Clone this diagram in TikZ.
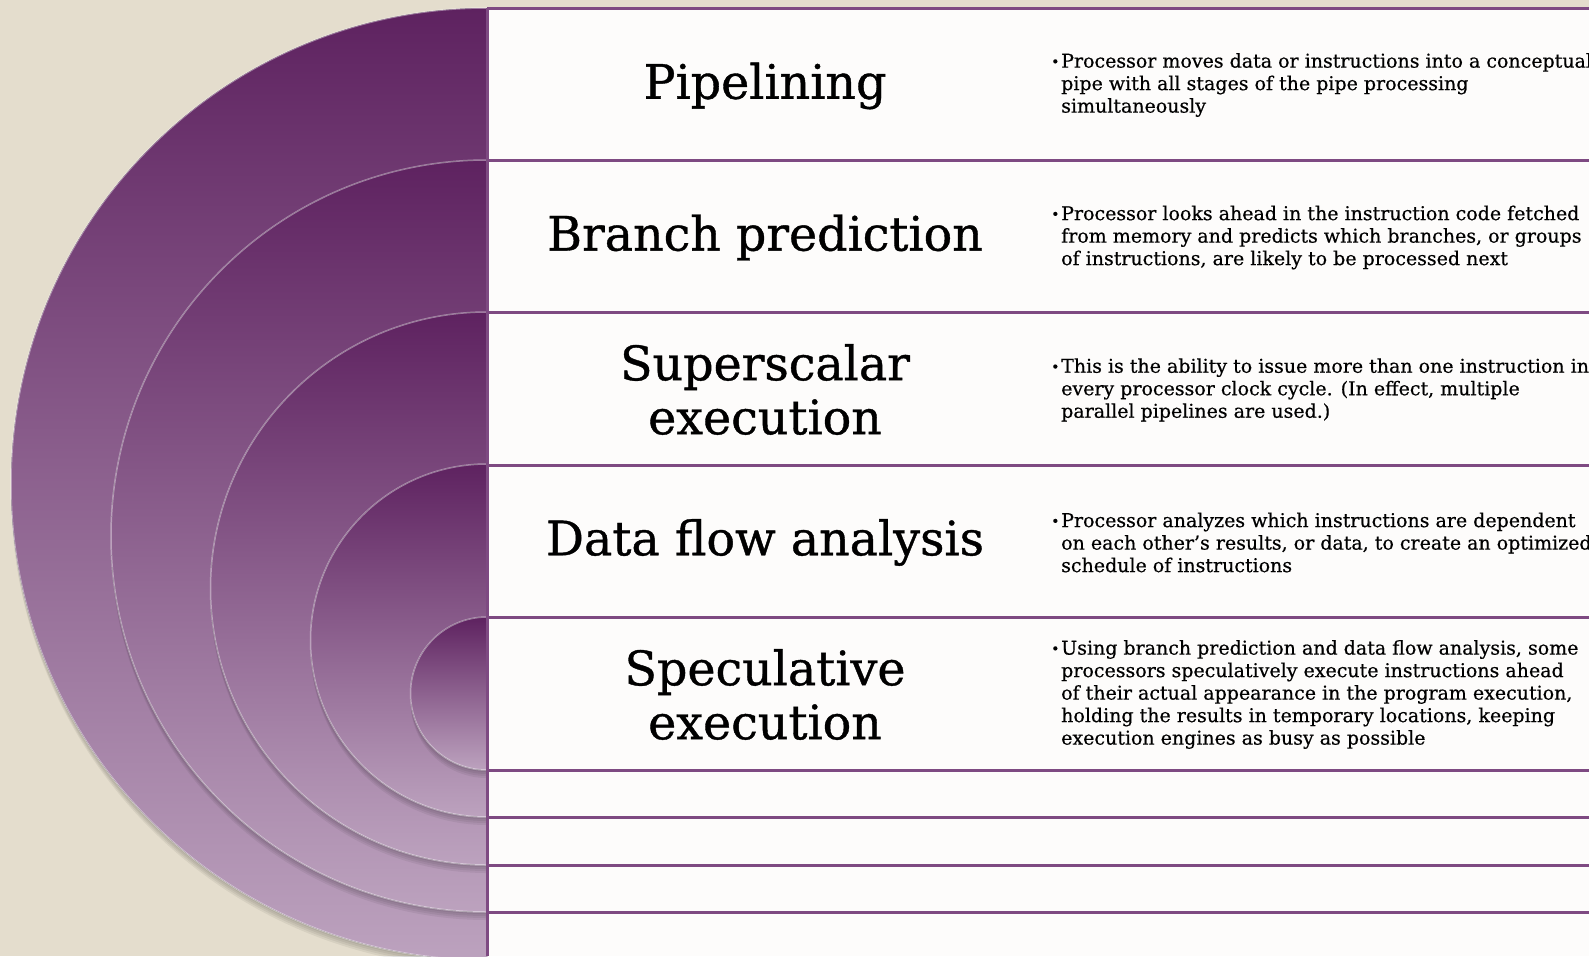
\documentclass[tikz,border=0pt]{standalone}
\usepackage{fontspec}
\setmainfont{DejaVu Serif}
\newfontfamily\headfont{DejaVu Serif}[FakeBold=0.8]
\newfontfamily\bodyfont{DejaVu Serif}[FakeBold=0.5]
\usepackage{xcolor}

\definecolor{plumdark}{HTML}{5E2260}
\definecolor{plumlight}{HTML}{BCA2BE}
\definecolor{plumline}{HTML}{7E4A82}
\definecolor{sand}{HTML}{E4DDCD}
\definecolor{paper}{HTML}{FDFCFB}

\newcommand{\dotitem}{\makebox[10pt][l]{\raisebox{1pt}{\fontsize{14}{14}\selectfont\textbullet}}}
\newcommand{\hangline}{\hspace*{10pt}}

\tikzset{
  heading/.style={font=\headfont\fontsize{47.5}{54}\selectfont, align=center, inner sep=0pt},
  pointtext/.style={font=\bodyfont\fontsize{19}{22.5}\selectfont, align=left, anchor=west, inner sep=0pt},
  rowline/.style={plumline, line width=3pt},
  halfdisk/.style={top color=plumdark, bottom color=plumlight},
}

\begin{document}
\begin{tikzpicture}[x=1pt, y=-1pt]
        \useasboundingbox (0,0) rectangle (1589,956);

        % Background and white panel
        \fill[sand] (0,0) rectangle (1589,956);
        \fill[paper] (487,8) rectangle (1589,956);

        % Nested half disks, outer one first
        \begin{scope}
            \clip (0,0) rectangle (487,956);
            \foreach \cy/\r in {484/476, 536/376, 588.5/276.5, 640.5/176.5, 693.5/76.5} {
                \foreach \s in {2,4,6,8}
                    \fill[black, opacity=0.06] (487,\cy-\r+\s) arc[start angle=270, end angle=90, radius=\r] -- cycle;
                \fill[halfdisk] (487,\cy-\r) arc[start angle=270, end angle=90, radius=\r] -- cycle;
                \draw[white, opacity=0.4, line width=1.5pt] (487,\cy-\r) arc[start angle=270, end angle=90, radius=\r];
            }
        \end{scope}

        % Row lines
        \foreach \y in {8, 160.4, 312.8, 465.2, 617.6, 770, 817.5, 865, 912.5}
            \draw[rowline] (487,\y) -- (1589,\y);
        \draw[rowline] (487,8) -- (487,956);

        % Headings
        \node[heading] (pipe) at (765,86) {Pipelining};
        \node[heading] (branch) at (765,237.5) {Branch prediction};
        \node[heading] (superscalar) at (765,389.5) {Superscalar\\execution};
        \node[heading] (dataflow) at (765,542.5) {Data flow analysis};
        \node[heading] (speculative) at (765,694.5) {Speculative\\execution};

        % Descriptions
        \node[pointtext] (pipetext) at (1051,85)
            {\dotitem Processor moves data or instructions into a conceptual\\
             \hangline pipe with all stages of the pipe processing\\
             \hangline simultaneously};
        \node[pointtext] (branchtext) at (1051,237.5)
            {\dotitem Processor looks ahead in the instruction code fetched\\
             \hangline from memory and predicts which branches, or groups\\
             \hangline of instructions, are likely to be processed next};
        \node[pointtext] (superscalartext) at (1051,390)
            {\dotitem This is the ability to issue more than one instruction in\\
             \hangline every processor clock cycle. (In effect, multiple\\
             \hangline parallel pipelines are used.)};
        \node[pointtext] (dataflowtext) at (1051,542.5)
            {\dotitem Processor analyzes which instructions are dependent\\
             \hangline on each other’s results, or data, to create an optimized\\
             \hangline schedule of instructions};
        \node[pointtext] (speculativetext) at (1051,694.5)
            {\dotitem Using branch prediction and data flow analysis, some\\
             \hangline processors speculatively execute instructions ahead\\
             \hangline of their actual appearance in the program execution,\\
             \hangline holding the results in temporary locations, keeping\\
             \hangline execution engines as busy as possible};

\end{tikzpicture}
\end{document}
